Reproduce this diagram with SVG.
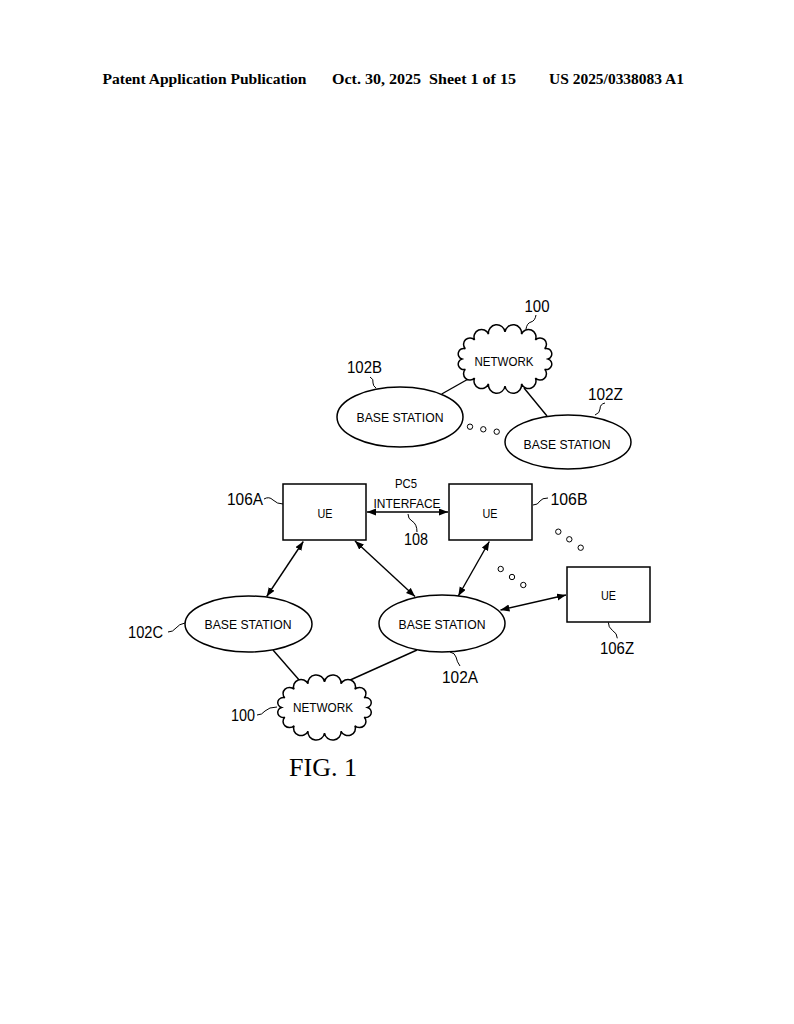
<svg xmlns="http://www.w3.org/2000/svg" width="794" height="1024" viewBox="0 0 794 1024">
<style>
  .ln { fill: none; stroke: #000; stroke-width: 1.4; }
  .ld { fill: none; stroke: #000; stroke-width: 1; }
  .shape { fill: #fff; stroke: #000; stroke-width: 1.5; }
  .dot { fill: #fff; stroke: #000; stroke-width: 1; }
  .t { font-family: "Liberation Sans", Arial, sans-serif; font-size: 13.5px; fill: #000; text-anchor: middle; }
  .ref { font-family: "Liberation Sans", Arial, sans-serif; font-size: 16px; fill: #000; text-anchor: middle; }
  .hdr { font-family: "Liberation Serif", "Times New Roman", serif; font-size: 15.5px; font-weight: bold; fill: #000; }
  .fig { font-family: "Liberation Serif", "Times New Roman", serif; font-size: 26px; fill: #000; text-anchor: middle; }
</style>
<defs>
  <marker id="ah" markerUnits="userSpaceOnUse" markerWidth="10" markerHeight="8" refX="9" refY="3.5" orient="auto-start-reverse">
    <path d="M0,0 L9,3.5 L0,7 z" fill="#000"/>
  </marker>
  <path id="cloud" d="M43,0 A1 1 0 0 1 39.7,10.3 A1 1 0 0 1 30.4,19.1 A1 1 0 0 1 16.5,24.9 A1 1 0 0 1 0,27 A1 1 0 0 1 -16.5,24.9 A1 1 0 0 1 -30.4,19.1 A1 1 0 0 1 -39.7,10.3 A1 1 0 0 1 -43,0 A1 1 0 0 1 -39.7,-10.3 A1 1 0 0 1 -30.4,-19.1 A1 1 0 0 1 -16.5,-24.9 A1 1 0 0 1 0,-27 A1 1 0 0 1 16.5,-24.9 A1 1 0 0 1 30.4,-19.1 A1 1 0 0 1 39.7,-10.3 A1 1 0 0 1 43,0 Z"/>
</defs>
<rect width="794" height="1024" fill="#fff"/>

<g id="header">
  <text class="hdr" x="102.5" y="84" textLength="204" lengthAdjust="spacingAndGlyphs">Patent Application Publication</text>
  <text class="hdr" x="332" y="84" textLength="184" lengthAdjust="spacingAndGlyphs" xml:space="preserve">Oct. 30, 2025  Sheet 1 of 15</text>
  <text class="hdr" x="549" y="84" textLength="135" lengthAdjust="spacingAndGlyphs">US 2025/0338083 A1</text>
</g>

<g id="connectors">
  <line class="ln" x1="470" y1="378" x2="441.7" y2="394"/>
  <line class="ln" x1="524" y1="388" x2="547" y2="416"/>
  <line class="ln" x1="273" y1="650" x2="300" y2="681"/>
  <line class="ln" x1="417" y1="650" x2="348" y2="681"/>
  <line class="ln" x1="367" y1="512" x2="448" y2="512" marker-start="url(#ah)" marker-end="url(#ah)"/>
  <line class="ln" x1="303.3" y1="541.5" x2="266.7" y2="596.5" marker-start="url(#ah)" marker-end="url(#ah)"/>
  <line class="ln" x1="355" y1="541" x2="415" y2="596.5" marker-start="url(#ah)" marker-end="url(#ah)"/>
  <line class="ln" x1="489.3" y1="541.5" x2="458.3" y2="596" marker-start="url(#ah)" marker-end="url(#ah)"/>
  <line class="ln" x1="500.5" y1="610" x2="566" y2="595" marker-start="url(#ah)" marker-end="url(#ah)"/>
</g>

<g id="network-top">
  <use href="#cloud" class="shape" transform="translate(505,359)"/>
  <text class="t" x="504" y="366" textLength="59" lengthAdjust="spacingAndGlyphs">NETWORK</text>
  <text class="ref" x="537" y="312" textLength="25" lengthAdjust="spacingAndGlyphs">100</text>
  <path class="ld" d="M526,329 q1,-6 5,-7 q4,-1 5,-7"/>
</g>

<g id="bs-102B">
  <ellipse class="shape" cx="400" cy="417" rx="63" ry="30"/>
  <text class="t" x="400" y="421.5" textLength="87" lengthAdjust="spacingAndGlyphs">BASE STATION</text>
  <text class="ref" x="364.5" y="373" textLength="35" lengthAdjust="spacingAndGlyphs">102B</text>
  <path class="ld" d="M370,377 q4,2 3,6 q0,3 3,5"/>
</g>

<g id="bs-102Z">
  <ellipse class="shape" cx="568" cy="442" rx="63" ry="27"/>
  <text class="t" x="567" y="449" textLength="87" lengthAdjust="spacingAndGlyphs">BASE STATION</text>
  <text class="ref" x="605.5" y="400" textLength="35" lengthAdjust="spacingAndGlyphs">102Z</text>
  <path class="ld" d="M605,403 q-5,1 -5,6 q0,4 -5,6"/>
</g>

<g id="dots">
  <circle class="dot" cx="470" cy="426.7" r="2.7"/>
  <circle class="dot" cx="483.3" cy="429.3" r="2.7"/>
  <circle class="dot" cx="496.7" cy="431.7" r="2.7"/>
  <circle class="dot" cx="558.3" cy="531.7" r="2.7"/>
  <circle class="dot" cx="569.3" cy="539.3" r="2.7"/>
  <circle class="dot" cx="580.7" cy="547.7" r="2.7"/>
  <circle class="dot" cx="500.7" cy="569" r="2.7"/>
  <circle class="dot" cx="512" cy="577" r="2.7"/>
  <circle class="dot" cx="523.3" cy="585" r="2.7"/>
</g>

<g id="ue-106A">
  <rect class="shape" x="283" y="484" width="83" height="56"/>
  <text class="t" x="325" y="518" textLength="15" lengthAdjust="spacingAndGlyphs">UE</text>
  <text class="ref" x="245" y="505" textLength="36" lengthAdjust="spacingAndGlyphs">106A</text>
  <path class="ld" d="M264,499 q5,-3 9,1 q4,4 10,4"/>
</g>

<g id="ue-106B">
  <rect class="shape" x="449" y="484" width="83" height="56"/>
  <text class="t" x="490" y="518" textLength="15" lengthAdjust="spacingAndGlyphs">UE</text>
  <text class="ref" x="569" y="505" textLength="37" lengthAdjust="spacingAndGlyphs">106B</text>
  <path class="ld" d="M533,505 q5,0 7,-4 q2,-3 8,-3"/>
</g>

<g id="pc5-108">
  <text class="t" x="406" y="488" textLength="22" lengthAdjust="spacingAndGlyphs">PC5</text>
  <text class="t" x="407" y="508" textLength="67" lengthAdjust="spacingAndGlyphs">INTERFACE</text>
  <text class="ref" x="416" y="545" textLength="24" lengthAdjust="spacingAndGlyphs">108</text>
  <path class="ld" d="M408,514 q0,5 4,7 q5,3 5,11"/>
</g>

<g id="ue-106Z">
  <rect class="shape" x="567" y="567" width="83" height="55"/>
  <text class="t" x="608.5" y="600" textLength="15" lengthAdjust="spacingAndGlyphs">UE</text>
  <text class="ref" x="617" y="654" textLength="34" lengthAdjust="spacingAndGlyphs">106Z</text>
  <path class="ld" d="M608.3,622.3 q0,5 4,8 q5,3 5,8"/>
</g>

<g id="bs-102C">
  <ellipse class="shape" cx="248.5" cy="624" rx="63.5" ry="28"/>
  <text class="t" x="248" y="629" textLength="87" lengthAdjust="spacingAndGlyphs">BASE STATION</text>
  <text class="ref" x="145.5" y="638" textLength="35" lengthAdjust="spacingAndGlyphs">102C</text>
  <path class="ld" d="M168,632 q5,0 8,-4 q3,-4 9,-5"/>
</g>

<g id="bs-102A">
  <ellipse class="shape" cx="442" cy="623.5" rx="63" ry="28.5"/>
  <text class="t" x="442" y="629" textLength="87" lengthAdjust="spacingAndGlyphs">BASE STATION</text>
  <text class="ref" x="460" y="683" textLength="36" lengthAdjust="spacingAndGlyphs">102A</text>
  <path class="ld" d="M450,652 q5,1 6,5 q1,5 4,9"/>
</g>

<g id="network-bottom">
  <use href="#cloud" class="shape" transform="translate(324.5,707.5) scale(1,0.95)"/>
  <text class="t" x="323" y="712" textLength="60" lengthAdjust="spacingAndGlyphs">NETWORK</text>
  <text class="ref" x="243" y="721" textLength="24" lengthAdjust="spacingAndGlyphs">100</text>
  <path class="ld" d="M257,715 q5,0 8,-4 q4,-4 12,-4"/>
</g>

<text class="fig" x="323" y="776">FIG. 1</text>
</svg>
